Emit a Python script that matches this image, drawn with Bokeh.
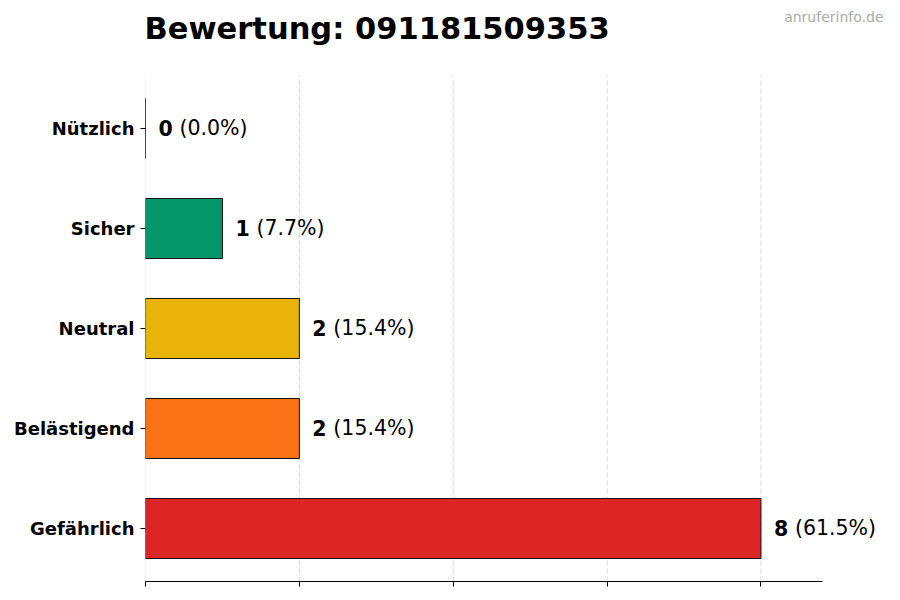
from bokeh.plotting import figure
from bokeh.models import ColumnDataSource, Range1d, FixedTicker, LabelSet, Label
from bokeh.core.properties import value
from bokeh.embed import file_html
from bokeh.resources import INLINE

# data, bottom to top as drawn
categories = ["Gefährlich", "Belästigend", "Neutral", "Sicher", "Nützlich"]
counts = [8, 2, 2, 1, 0]
bar_colors = ["#dc2626", "#f97316", "#eab308", "#059669", "#059669"]
x_ticks = [0, 2, 4, 6, 8]
chart_title = "Bewertung: 091181509353"
watermark = "anruferinfo.de"

total = sum(counts)
pct_text = ["(%.1f%%)" % (100.0 * c / total) for c in counts]
ypos = list(range(len(categories)))

src = ColumnDataSource(data=dict(
    y=ypos,
    count=counts,
    color=bar_colors,
    num=[str(c) for c in counts],
    pct=pct_text,
))

# x axis ends at 1.1*max, frame goes further so labels are not clipped
x_end = max(counts) * 1.1
y_lo, y_hi = -0.53, len(categories) - 1 + 0.53

# frame reaches the top/right edge of the canvas so texts are inside it
p = figure(width=900, height=600, output_backend="svg", toolbar_location=None, tools="",
           x_range=Range1d(0, x_end * 755 / 677), y_range=Range1d(y_lo, y_lo + 5.81),
           min_border_left=145, min_border_right=0, min_border_top=0, min_border_bottom=19)
p.outline_line_color = None
p.background_fill_color = "white"

# dashed vertical grid, only over the bar area
p.segment(x0=x_ticks, x1=x_ticks, y0=[y_lo] * len(x_ticks), y1=[y_hi] * len(x_ticks),
          line_color="#cccccc", line_dash="5 3", line_width=0.8)

p.hbar(y="y", left=0, right="count", height=0.6, source=src,
       fill_color="color", line_color="#111111", line_width=1)

# value labels: bold count then percentage
p.add_layout(LabelSet(x="count", y="y", text="num", source=src, x_offset=13, y_offset=1,
                      text_baseline="middle", text_font=value("DejaVu Sans"), text_font_style="bold",
                      text_font_size="20.5px", text_color="black"))
p.add_layout(LabelSet(x="count", y="y", text="pct", source=src, x_offset=34, y_offset=1,
                      text_baseline="middle", text_font=value("DejaVu Sans"),
                      text_font_size="20.5px", text_color="black"))

# axes
p.yaxis.ticker = FixedTicker(ticks=ypos)
p.yaxis.major_label_overrides = {i: c for i, c in zip(ypos, categories)}
p.yaxis.axis_line_color = None
p.yaxis.minor_tick_line_color = None
p.yaxis.major_tick_out = 5
p.yaxis.major_tick_in = 0
p.yaxis.major_tick_line_color = "black"
p.yaxis.major_label_standoff = 6
p.yaxis.major_label_text_font = "DejaVu Sans"
p.yaxis.major_label_text_font_style = "bold"
p.yaxis.major_label_text_font_size = "18px"
p.yaxis.major_label_text_color = "black"

p.xaxis.ticker = FixedTicker(ticks=x_ticks)
p.xaxis.bounds = (0, x_end)
p.xaxis.axis_line_color = "black"
p.xaxis.major_tick_out = 5
p.xaxis.major_tick_in = 0
p.xaxis.minor_tick_line_color = None
p.xaxis.major_label_text_font_size = "0px"
p.xaxis.major_label_standoff = 0

p.xgrid.grid_line_color = None
p.ygrid.grid_line_color = None

# title and watermark (screen units from frame bottom-left)
p.add_layout(Label(x=-1, y=536, x_units="screen", y_units="screen", text=chart_title,
                   text_font="DejaVu Sans", text_font_style="bold", text_font_size="30.5px",
                   text_color="black"))
p.add_layout(Label(x=738, y=557, x_units="screen", y_units="screen", text=watermark,
                   text_align="right", text_font="DejaVu Sans", text_font_size="14px",
                   text_color="#aaaaaa"))

open("out.html", "w").write(file_html(p, INLINE))
